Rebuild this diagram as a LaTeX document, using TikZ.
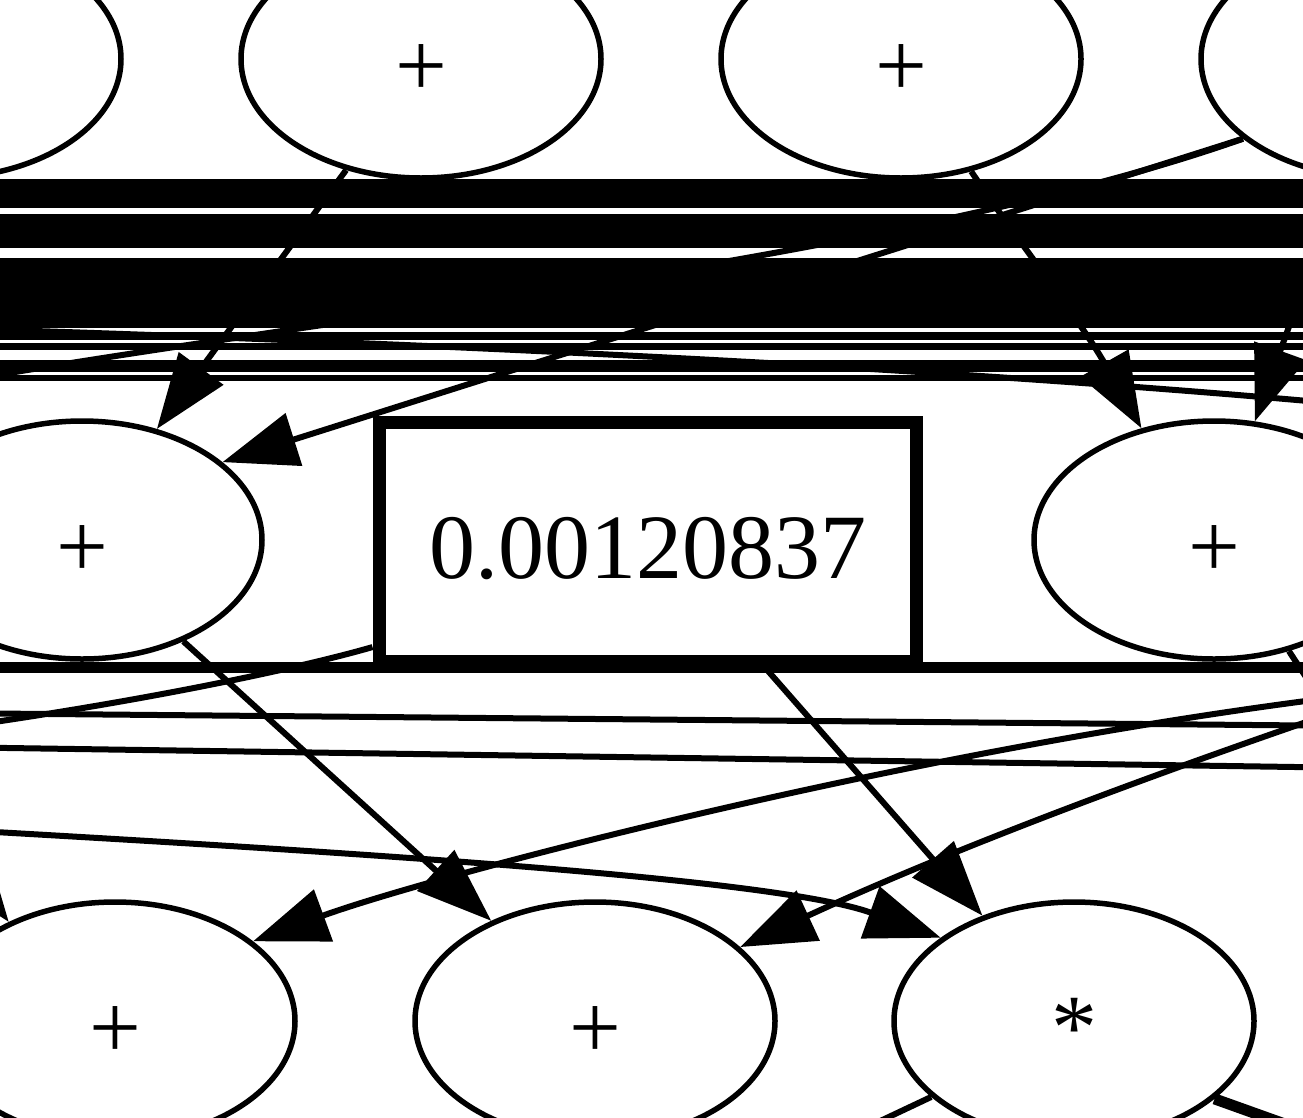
\documentclass[tikz,border=0pt]{standalone}
\usepackage{fontspec}
\setmainfont{Liberation Serif}
\usetikzlibrary{arrows.meta,shapes.geometric}
\begin{document}
\begin{tikzpicture}[x=1pt,y=-1pt,
  lbl/.style={font=\fontsize{92}{100}\selectfont,text height=74pt,text depth=0pt},
  ell/.style={ellipse,draw,line width=5.5pt,minimum width=360pt,minimum height=238pt,inner sep=0pt,lbl},
  valbox/.style={rectangle,draw,line width=13pt,minimum width=537pt,minimum height=239pt,inner sep=0pt,lbl},
  plain/.style={line width=6pt},
  edge/.style={line width=6pt,-{Triangle[length=75pt,width=54pt]}},
  heavy/.style={line width=11pt}]
\useasboundingbox (0,0) rectangle (1303,1117);
\clip (0,0) rectangle (1303,1117);
\fill[white] (0,0) rectangle (1303,1117);

% top row
\node[ell] (t0) at (-59,59) {};
\node[ell] (t1) at (421,59) {+};
\node[ell] (t2) at (901,59) {+};
\node[ell] (t3) at (1381,59) {};
% middle row
\node[ell] (m0) at (82,540) {+};
\node[valbox] (m1) at (647.5,541.5) {0.00120837};
\node[ell] (m2) at (1214,540) {+};
% bottom row
\node[ell] (b0) at (115,1021) {+};
\node[ell] (b1) at (595,1021) {+};
\node[ell] (b2) at (1074,1021) {*};

% bundle of long horizontal edges
\foreach \yy/\ww [count=\i] in {184/10,193/10,203/10,219/10,228/10,237/10,243/10,
    263/10,272/10,282/10,291/10,300/10,309/10,318/10,323/10,336/8,346.5/7,366/12,378/6} {
  \coordinate (bl\i) at (-60,\yy);
  \coordinate (br\i) at (1363,\yy);
  \draw[line width=\ww pt] (bl\i) -- (br\i);
}

% edges in the upper part
\draw[edge] (t1.236) -- (m0.56);
\draw[edge] (t3.210) .. controls (1050,200) and (450,390) .. (m0.29);
\coordinate (q3) at (-60,385);
\draw[plain] (t3.210) .. controls (900,260) and (300,320) .. (q3);
\draw[edge] (t2.302) .. controls (1010,230) and (1080,320) .. (m2.123);
\coordinate (x4) at (1331,210);
\draw[edge] (x4) -- (m2.71);
\coordinate (r5) at (1363,406);
\coordinate (l5) at (-60,328);
\draw[plain] (r5) .. controls (1000,372) and (500,345) .. (l5);

% edges in the lower part
\draw[edge] (m0.315) -- (b1.136);
\draw[edge] (m1.313) -- (b2.131);
\coordinate (l8) at (-40,727);
\draw[plain] (m1.201) .. controls (300,668) and (150,700) .. (l8);
\coordinate (l9) at (-60,667);
\coordinate (r9) at (1363,667);
\draw[heavy] (l9) -- (r9);
\coordinate (l10) at (-60,713);
\coordinate (r10) at (1363,726);
\draw[plain] (l10) -- (r10);
\coordinate (l11) at (-60,747);
\coordinate (r11) at (1363,768);
\draw[plain] (l11) -- (r11);
\coordinate (l12) at (-40,830);
\draw[edge] (l12) .. controls (400,855) and (780,880) .. (b2.148);
\coordinate (r13) at (1353,695);
\draw[edge] (r13) .. controls (900,750) and (420,880) .. (b0.30);
\coordinate (r14) at (1353,706);
\draw[edge] (r14) .. controls (1150,775) and (950,850) .. (b1.27);
\coordinate (l15) at (-75,810);
\draw[edge] (l15) -- (b0.137);
\coordinate (c16) at (840,1140);
\draw[plain] (b2.208) -- (c16);
\coordinate (c17) at (1310,1133);
\draw[heavy] (b2.331) -- (c17);
\coordinate (c18) at (1325,706);
\draw[plain] (m2.304) -- (c18);
\end{tikzpicture}
\end{document}
